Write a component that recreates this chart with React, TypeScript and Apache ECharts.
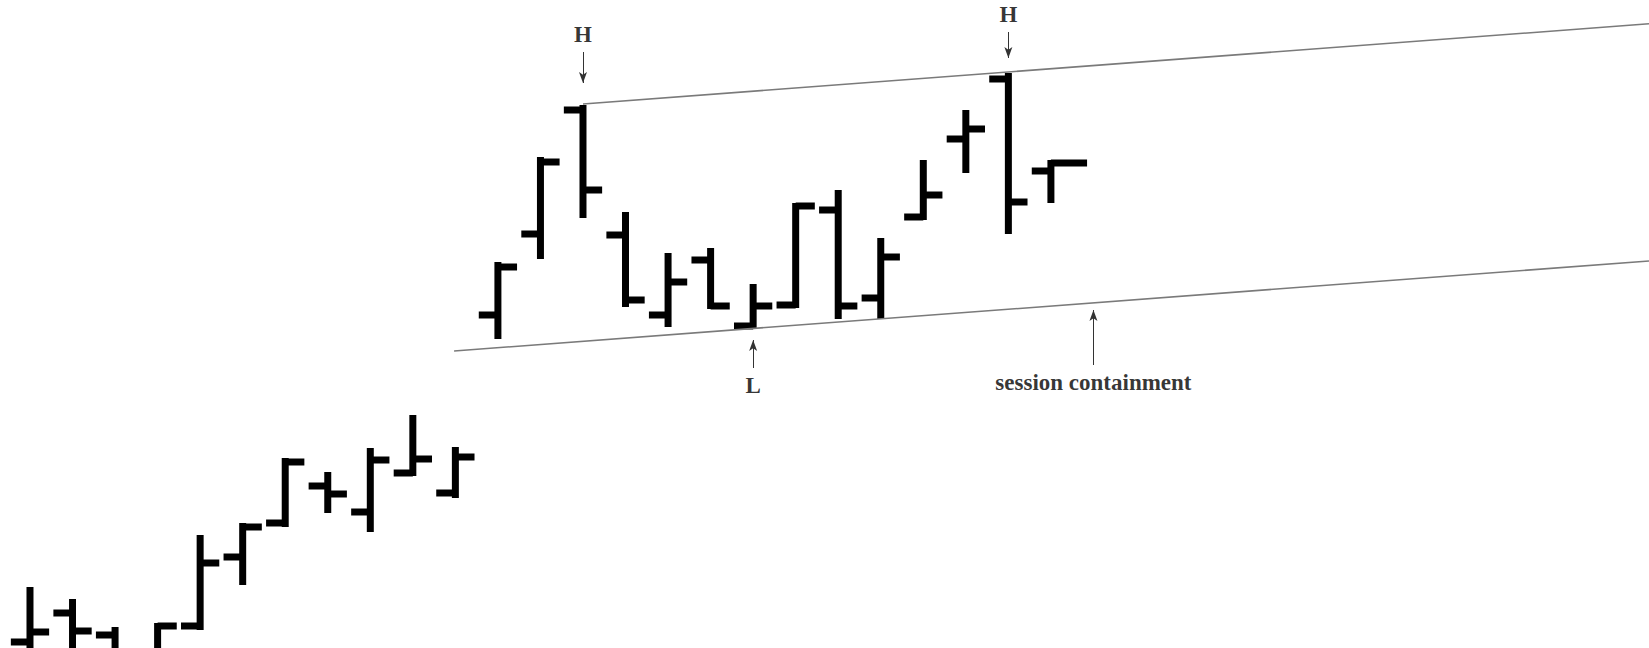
import React, { useEffect, useRef } from "react";
import * as echarts from "echarts";

// OHLC bars (price units, arbitrary scale)
const opens = [101.5, 108.75, 103.25, 98.25, 105.5, 122.75, 131.25, 140.5, 134, 143.75, 138.75, 183.25, 203.5, 234.5, 203.25, 183.25, 197, 180.5, 185.75, 209.5, 187.5, 207.75, 227.25, 242.25, 219.25];
const highs = [115.25, 112.25, 105.25, 106.25, 128.25, 131.25, 147.5, 144, 150, 158.25, 150.25, 196.5, 222.75, 235.75, 209, 198.75, 200, 191, 211.25, 214.5, 202.5, 222, 234.5, 243.75, 222];
const lows = [96.5, 96.5, 96.5, 96.5, 104.5, 115.75, 130.25, 133.75, 129, 143, 137.5, 177.25, 197.25, 207.5, 185.25, 180.25, 184.75, 180, 185, 182.25, 182.25, 207, 218.75, 203.5, 211.25];
const closes = [104, 104.25, 99, 105.5, 121.25, 130.25, 146.5, 138.5, 147, 147.25, 147.75, 195.25, 221.5, 214.5, 187, 191.5, 185.5, 185.5, 210.5, 185.5, 197.75, 213.25, 229.75, 211.5, 221.25];

// Channel lines [barIndex, price]
const channelUpper = [[13, 236], [38.06, 256.05]];
const channelLower = [[9.97, 174.25], [38.06, 196.75]];

// Annotations
const annLabels = ["H", "H", "L", "session containment"];
const annX = [13, 23, 17, 25];
const annTextY = [253.5, 258.5, 165.75, 166.5];
const annTail = [249, 254, 170, 170.75];
const annTip = [241.25, 247.5, 177, 184.5];

export default function App() {
  const ref = useRef<HTMLDivElement>(null);
  useEffect(() => {
    if (!ref.current) return;
    const chart = echarts.init(ref.current, null, { renderer: "svg" });
    const last = opens.length - 1;
    const barData = opens.map((o, i) => [i, o, highs[i], lows[i], closes[i]]);
    const option: any = {
      animation: false,
      backgroundColor: "#ffffff",
      grid: { left: 0, right: 0, top: 0, bottom: 0 },
      xAxis: { type: "value", min: -0.705, max: 38.06, show: false, splitLine: { show: false } },
      yAxis: { type: "value", min: 100, max: 262, show: false, splitLine: { show: false } },
      series: [
        {
          type: "line",
          data: channelUpper,
          symbol: "none",
          lineStyle: { color: "#7a7a7a", width: 1.6 },
          silent: true,
        },
        {
          type: "line",
          data: channelLower,
          symbol: "none",
          lineStyle: { color: "#7a7a7a", width: 1.6 },
          silent: true,
        },
        {
          type: "custom",
          clip: true,
          data: barData,
          encode: { x: 0, y: [1, 2, 3, 4] },
          renderItem: (params: any, api: any) => {
            const i = api.value(0);
            const o = api.value(1);
            const h = api.value(2);
            const l = api.value(3);
            const c = api.value(4);
            const pH = api.coord([i, h]);
            const pL = api.coord([i, l]);
            const pO = api.coord([i, o]);
            const pC = api.coord([i, c]);
            const step = api.size([1, 0])[0];
            const tl = step * 0.45;
            const tr = params.dataIndex === last ? step * 0.85 : tl;
            const st = { stroke: "#000", lineWidth: 7, lineCap: "butt" };
            return {
              type: "group",
              children: [
                { type: "line", shape: { x1: pH[0], y1: pH[1], x2: pL[0], y2: pL[1] }, style: st },
                { type: "line", shape: { x1: pO[0] - tl, y1: pO[1], x2: pO[0], y2: pO[1] }, style: st },
                { type: "line", shape: { x1: pC[0], y1: pC[1], x2: pC[0] + tr, y2: pC[1] }, style: st },
              ],
            };
          },
        },
        {
          type: "scatter",
          symbolSize: 0,
          data: annLabels.map((t, i) => ({ name: t, value: [annX[i], annTextY[i]] })),
          label: {
            show: true,
            position: "inside",
            formatter: (p: any) => p.name,
            fontFamily: "Liberation Serif",
            fontWeight: "bold",
            fontSize: 23,
            color: "#000",
          },
          markLine: {
            silent: true,
            symbol: ["none", "arrow"],
            symbolSize: [6, 11],
            lineStyle: { color: "#333", width: 1, type: "solid" },
            label: { show: false },
            data: annLabels.map((_, i) => [
              { coord: [annX[i], annTail[i]] },
              { coord: [annX[i], annTip[i]] },
            ]),
          },
        },
      ],
    };
    chart.setOption(option);
    return () => chart.dispose();
  }, []);
  return (
    <div
      ref={ref}
      style={{ position: "fixed", left: 0, top: 0, width: 1649, height: 648, background: "#fff" }}
    />
  );
}
